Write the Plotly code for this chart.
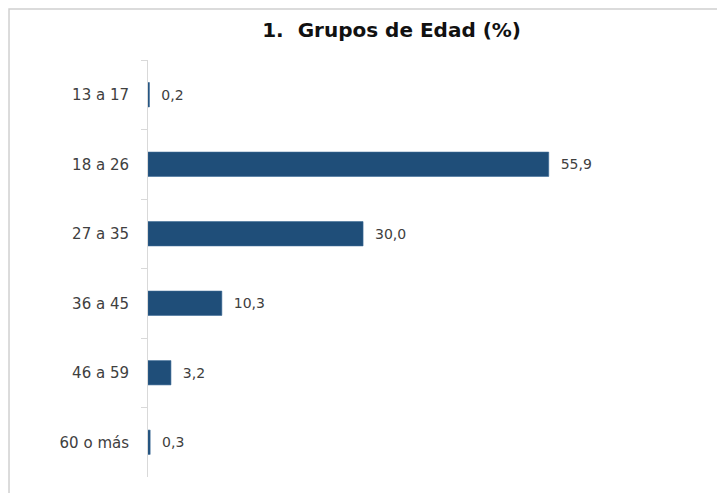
import plotly.graph_objects as go

grupos = ["13 a 17", "18 a 26", "27 a 35", "36 a 45", "46 a 59", "60 o más"]
porcentajes = [0.2, 55.9, 30.0, 10.3, 3.2, 0.3]

# the page body adds an 8px offset, so the figure is sized a bit smaller
fig = go.Figure(go.Bar(
    x=porcentajes, y=grupos, orientation="h",
    marker=dict(color="#1F4E79", line=dict(color="#3b6a96", width=0.6)),
    width=0.35,
    texttemplate="\u00a0\u00a0%{x:.1f}", textposition="outside",
    textfont=dict(size=14, color="#404040"),
    cliponaxis=False,
))

fig.update_layout(
    width=717, height=485,
    margin=dict(l=140, r=25, t=52, b=16),
    paper_bgcolor="white", plot_bgcolor="white",
    separators=",.",
    font=dict(family="DejaVu Sans, sans-serif", color="#404040"),
    title=dict(text="<b>1.  Grupos de Edad (%)</b>", x=0.535, xanchor="center",
               y=0.955, yanchor="middle", font=dict(size=20, color="#111111")),
    showlegend=False,
    shapes=[dict(type="rect", xref="paper", yref="paper", x0=-0.2518, x1=1.2,
                 y0=-0.2, y1=1.1223, line=dict(color="#d0d0d0", width=1.5))],
)
fig.update_xaxes(range=[0, 77], visible=False, showgrid=False, automargin=False)
fig.update_yaxes(
    autorange="reversed", showgrid=False, automargin=False,
    showline=True, linecolor="#d9d9d9", linewidth=1,
    ticks="outside", tickson="boundaries", ticklen=6, tickcolor="#d9d9d9",
    ticklabelstandoff=15, tickfont=dict(size=15, color="#404040"),
)

fig.write_html("out.html")
